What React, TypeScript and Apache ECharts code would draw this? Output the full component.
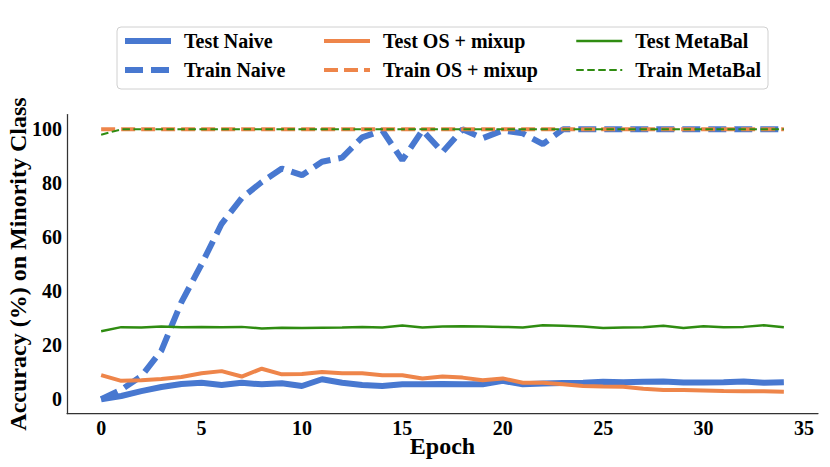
import React, { useEffect, useRef } from "react";
import * as echarts from "echarts";

const epochs = [0,1,2,3,4,5,6,7,8,9,10,11,12,13,14,15,16,17,18,19,20,21,22,23,24,25,26,27,28,29,30,31,32,33,34];
const xTicks = [0, 5, 10, 15, 20, 25, 30, 35];
const yTicks = [0, 20, 40, 60, 80, 100];

const testNaive = [0,1.2,3,4.5,5.6,6.1,5.3,6.1,5.5,5.9,4.9,7.4,6.1,5.3,4.9,5.5,5.5,5.6,5.5,5.5,6.8,5.5,5.8,6.0,6.1,6.5,6.3,6.5,6.6,6.2,6.2,6.3,6.6,6.1,6.3];
const trainNaive = [0,3.5,8.5,18,36,50,65,74.5,80.5,85.5,83,88,89.5,97,99.6,88.6,99.6,91.6,100,96.7,99.6,98.5,94.5,100,100,100,100,100,100,100,100,100,100,100,100];
const testOS = [8.9,6.8,7.0,7.5,8.2,9.6,10.4,8.4,11.3,9.2,9.3,10.1,9.6,9.6,8.9,8.9,7.7,8.4,8.0,7.0,7.7,6.1,6.1,5.5,4.9,4.7,4.6,3.9,3.4,3.4,3.2,3.0,2.9,2.9,2.8];
const trainOS = [100,100,100,100,100,100,100,100,100,100,100,100,100,100,100,100,100,100,100,100,100,100,100,100,100,100,100,100,100,100,100,100,100,100,100];
const testMeta = [25.2,26.7,26.6,26.9,26.7,26.8,26.7,26.8,26.2,26.5,26.4,26.5,26.6,26.8,26.6,27.3,26.6,26.9,27.0,26.9,26.8,26.6,27.4,27.2,26.9,26.4,26.6,26.7,27.2,26.4,27.0,26.7,26.8,27.4,26.7];
const trainMeta = [98,100,100,100,100,100,100,100,100,100,100,100,100,100,100,100,100,100,100,100,100,100,100,100,100,100,100,100,100,100,100,100,100,100,100];

const BLUE = "#4878d0";
const ORANGE = "#ee854a";
const GREEN = "#2f8c11";
const FONT = "'Liberation Serif', 'Times New Roman', serif";

type S = { name: string; data: number[]; color: string; width: number; dash: any };
const seriesDefs: S[] = [
  { name: "Test Naive", data: testNaive, color: BLUE, width: 6, dash: "solid" },
  { name: "Train Naive", data: trainNaive, color: BLUE, width: 6, dash: [18, 8] },
  { name: "Test OS + mixup", data: testOS, color: ORANGE, width: 4, dash: "solid" },
  { name: "Train OS + mixup", data: trainOS, color: ORANGE, width: 4, dash: [14, 6] },
  { name: "Test MetaBal", data: testMeta, color: GREEN, width: 2.5, dash: "solid" },
  { name: "Train MetaBal", data: trainMeta, color: GREEN, width: 2, dash: [7.5, 3.5] },
];

const legendCol = (items: S[], left: number) => ({
  orient: "vertical",
  left,
  top: 31,
  itemWidth: 46,
  itemHeight: 14,
  itemGap: 9,
  padding: 0,
  data: items.map((s) => ({
    name: s.name,
    lineStyle: { color: s.color, width: s.width, type: s.dash },
    itemStyle: { color: "transparent", opacity: 0, borderWidth: 0 },
  })),
  textStyle: {
    fontFamily: FONT,
    fontWeight: "bold",
    fontSize: 20,
    color: "#000",
    lineHeight: 20,
    padding: [0, 0, 0, 8],
  },
});

export default function App() {
  const ref = useRef<HTMLDivElement>(null);
  useEffect(() => {
    if (!ref.current) return;
    const chart = echarts.init(ref.current, undefined, { renderer: "svg" });
    chart.setOption({
      animation: false,
      backgroundColor: "#fff",
      graphic: [
        {
          type: "rect",
          shape: { x: 117, y: 27, width: 651, height: 62, r: 4 },
          style: { fill: "#fff", stroke: "#d0d0d0", lineWidth: 1 },
          z: -1,
        },
      ],
      legend: [
        legendCol([seriesDefs[0], seriesDefs[1]], 122),
        legendCol([seriesDefs[2], seriesDefs[3]], 322),
        legendCol([seriesDefs[4], seriesDefs[5]], 575),
      ],
      grid: { left: 67, right: 12, top: 114.5, bottom: 53.5, containLabel: false, outerBoundsMode: "none" },
      xAxis: {
        type: "value",
        min: -1.7,
        max: 35.7,
        name: "Epoch",
        nameLocation: "middle",
        nameGap: 20,
        nameMoveOverlap: false,
        nameTextStyle: { fontFamily: FONT, fontWeight: "bold", fontSize: 24, color: "#000", verticalAlign: "top" },
        axisLine: { show: true, onZero: false, lineStyle: { color: "#333", width: 1.25 } },
        axisTick: { show: false },
        splitLine: { show: false },
        axisLabel: {
          customValues: xTicks,
          fontFamily: FONT,
          fontWeight: "bold",
          fontSize: 20,
          color: "#000",
          margin: 4,
        },
      },
      yAxis: {
        type: "value",
        min: -5.3,
        max: 105.5,
        name: "Accuracy (%) on Minority Class",
        nameLocation: "middle",
        nameGap: 37,
        nameMoveOverlap: false,
        nameRotate: 90,
        nameTextStyle: { fontFamily: FONT, fontWeight: "bold", fontSize: 24, color: "#000" },
        axisLine: { show: true, onZero: false, lineStyle: { color: "#333", width: 1.25 } },
        axisTick: { show: false },
        splitLine: { show: false },
        axisLabel: {
          customValues: yTicks,
          fontFamily: FONT,
          fontWeight: "bold",
          fontSize: 20,
          color: "#000",
          margin: 5,
        },
      },
      series: seriesDefs.map((s) => ({
        name: s.name,
        type: "line",
        symbol: "none",
        data: epochs.map((e, i) => [e, s.data[i]]),
        lineStyle: { color: s.color, width: s.width, type: s.dash },
        itemStyle: { color: s.color },
      })),
    });
    return () => chart.dispose();
  }, []);
  return <div ref={ref} style={{ width: 830, height: 467, position: "absolute", left: 0, top: 0 }} />;
}
